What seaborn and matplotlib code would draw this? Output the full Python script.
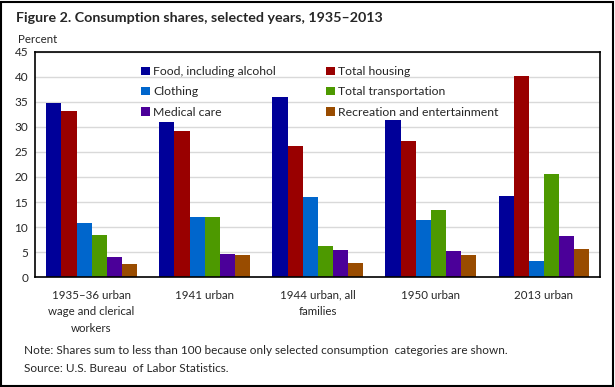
import matplotlib
matplotlib.use('Agg')
import matplotlib.pyplot as plt
import matplotlib.patches as mpatches
import pandas as pd
import seaborn as sns

groups = ["1935\u201336 urban\nwage and clerical\nworkers", "1941 urban",
          "1944 urban, all\nfamilies", "1950 urban", "2013 urban"]
categories = ["Food, including alcohol", "Total housing", "Clothing",
              "Total transportation", "Medical care", "Recreation and entertainment"]
food = [34.7, 30.9, 35.9, 31.3, 16.3]
housing = [33.1, 29.1, 26.1, 27.1, 40.1]
clothing = [10.9, 12.1, 16.1, 11.5, 3.3]
transport = [8.5, 12.1, 6.3, 13.5, 20.5]
medical = [4.1, 4.7, 5.5, 5.3, 8.3]
recreation = [2.7, 4.5, 2.9, 4.5, 5.6]
colors = ["#000099", "#990000", "#0066CC", "#4D9900", "#4B0099", "#994C00"]

series = [food, housing, clothing, transport, medical, recreation]
rows = []
for cat, vals in zip(categories, series):
    for g, v in zip(groups, vals):
        rows.append({"group": g, "category": cat, "share": v})
df = pd.DataFrame(rows)

sns.set_style("white")
plt.rcParams['font.family'] = ['Lato', 'DejaVu Sans']

fig = plt.figure(figsize=(6.15, 3.87), dpi=100)
ax = fig.add_axes([0.057, 0.284, 0.919, 0.582])

sns.barplot(data=df, x="group", y="share", hue="category", order=groups,
            hue_order=categories, palette=dict(zip(categories, colors)),
            width=0.8, saturation=1, linewidth=0, ax=ax, legend=True)

ax.set_ylim(0, 45)
ax.set_xlim(-0.5, 4.5)
ax.set_yticks(range(0, 46, 5))
ax.yaxis.grid(True, color="#d9d9d9", linewidth=1)
ax.set_axisbelow(True)
ax.set_xlabel("")
ax.set_ylabel("")
for s in ax.spines.values():
    s.set_visible(True)
    s.set_color("black")
    s.set_linewidth(1.2)
ax.tick_params(axis="y", labelsize=8.5, length=0, pad=5)
ax.tick_params(axis="x", labelsize=8.3, length=0, pad=9)
for lab in ax.get_xticklabels():
    lab.set_linespacing(1.65)

handles, labels = ax.get_legend_handles_labels()
idx = [0, 2, 4, 1, 3, 5]
ax.legend([handles[i] for i in idx], [labels[i] for i in idx], ncol=2,
          loc="upper left", bbox_to_anchor=(0.168, 0.985), frameon=False,
          fontsize=8.8, handlelength=0.7, handleheight=0.7, handletextpad=0.3,
          columnspacing=4.1, labelspacing=0.75)

fig.text(0.026, 0.942, "Figure 2. Consumption shares, selected years, 1935\u20132013",
         fontsize=10.3, fontweight="bold")
fig.text(0.029, 0.888, "Percent", fontsize=8.3)
fig.text(0.039, 0.085, "Note: Shares sum to less than 100 because only selected consumption  categories are shown.",
         fontsize=8.5)
fig.text(0.039, 0.04, "Source: U.S. Bureau  of Labor Statistics.", fontsize=8.5)

fig.patches.append(mpatches.Rectangle((0.002, 0.003), 0.994, 0.993, transform=fig.transFigure,
                                      fill=False, edgecolor="black", linewidth=1.5))

fig.savefig("out.png", dpi=100)
